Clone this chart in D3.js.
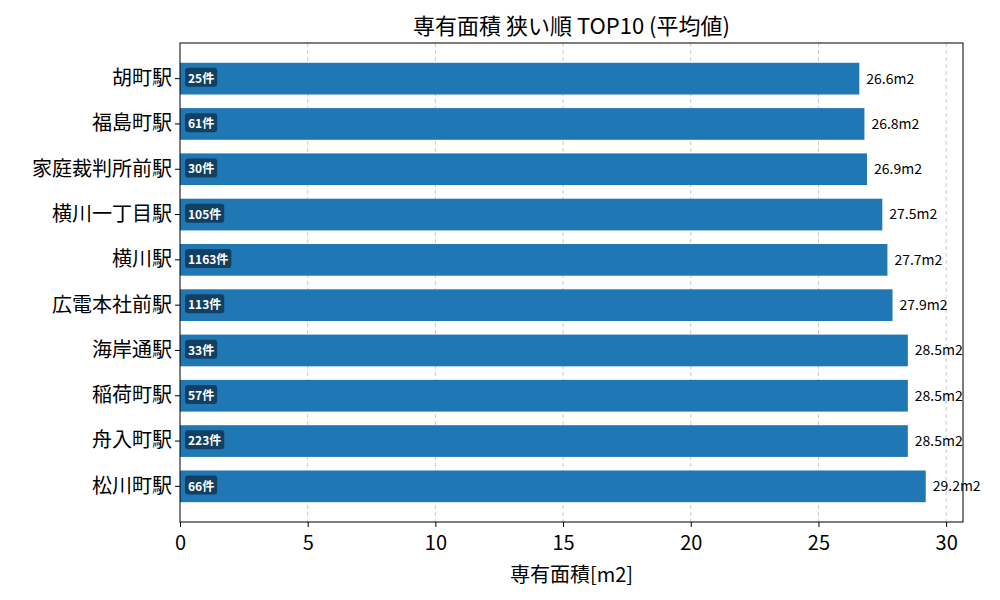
<!DOCTYPE html><html><head><meta charset="utf-8"><script src="https://cdn.jsdelivr.net/npm/d3@7"></script>
<style>body{margin:0;background:#fff}text{font-family:"Noto Sans CJK JP","Noto Sans",sans-serif}</style></head><body>
<svg id="c" width="1000" height="600"></svg>
<script>
const stations=["胡町駅","福島町駅","家庭裁判所前駅","横川一丁目駅","横川駅","広電本社前駅","海岸通駅","稲荷町駅","舟入町駅","松川町駅"];
const areas=[26.6,26.8,26.9,27.5,27.7,27.9,28.5,28.5,28.5,29.2];
const counts=[25,61,30,105,1163,113,33,57,223,66];
const xTicks=[0,5,10,15,20,25,30];
const L=180,R=963,T=43,B=522;
const svg=d3.select("#c");
const x=d3.scaleLinear().domain([0,30.66]).range([L,R]);
const y=d3.scaleBand().domain(stations).range([T+13,B-13]).paddingInner(0.3).paddingOuter(0.15);
svg.append("g").selectAll("line").data(xTicks.slice(1)).join("line")
 .attr("x1",d=>x(d)).attr("x2",d=>x(d)).attr("y1",T).attr("y2",B)
 .attr("stroke","#ccc").attr("stroke-dasharray","4,3");
svg.append("g").selectAll("rect").data(stations).join("rect")
 .attr("x",x(0)).attr("y",d=>y(d)).attr("height",y.bandwidth())
 .attr("width",(d,i)=>x(areas[i])-x(0)).attr("fill","#1f77b4");
svg.append("g").selectAll("text").data(stations).join("text")
 .attr("x",(d,i)=>x(areas[i])+7).attr("y",d=>y(d)+y.bandwidth()/2).attr("dy","0.35em")
 .attr("font-size",14).text((d,i)=>areas[i].toFixed(1)+"m2");
const bg=svg.append("g").selectAll("g").data(stations).join("g");
bg.append("text").attr("class","b").attr("x",x(0)+8).attr("y",d=>y(d)+y.bandwidth()/2).attr("dy","0.35em")
 .attr("font-size",12).attr("font-weight","bold").attr("fill","#fff").text((d,i)=>counts[i]+"件");
bg.each(function(){const g=d3.select(this),t=g.select("text"),bb=t.node().getBBox();
 g.insert("rect","text").attr("x",bb.x-3).attr("y",bb.y-1).attr("width",bb.width+6).attr("height",bb.height+2)
  .attr("rx",3).attr("fill","#0f3a5a").attr("opacity",0.9);});
const xa=svg.append("g").attr("transform",`translate(0,${B})`).call(d3.axisBottom(x).tickValues(xTicks).tickSize(5).tickSizeOuter(0));
xa.selectAll("text").attr("font-size",20).attr("dy","1em");xa.select(".domain").remove();
const ya=svg.append("g").attr("transform",`translate(${L},0)`).call(d3.axisLeft(y).tickSize(5).tickSizeOuter(0));
ya.selectAll("text").attr("font-size",20);ya.select(".domain").remove();
svg.append("rect").attr("x",L).attr("y",T).attr("width",R-L).attr("height",B-T).attr("fill","none").attr("stroke","#000");
svg.append("text").attr("x",(L+R)/2).attr("y",34).attr("text-anchor","middle").attr("font-size",22).text("専有面積 狭い順 TOP10 (平均値)");
svg.append("text").attr("x",(L+R)/2).attr("y",582).attr("text-anchor","middle").attr("font-size",20).text("専有面積[m2]");
</script></body></html>
